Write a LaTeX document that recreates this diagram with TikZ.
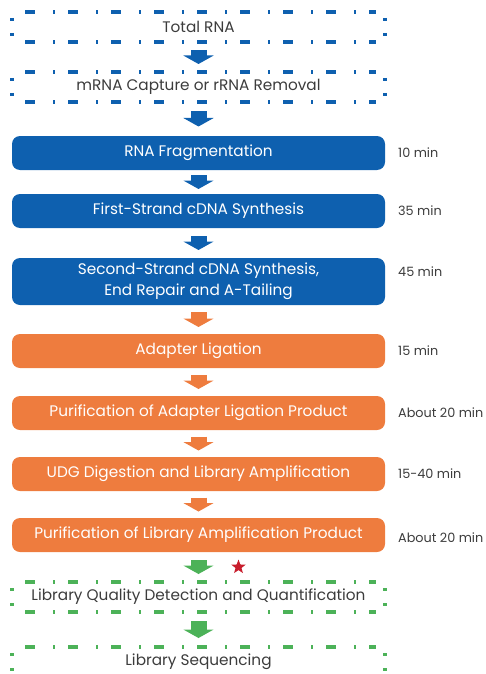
\documentclass[tikz,border=0pt]{standalone}
\usepackage{fontspec}
\setmainfont{Poppins}
\usetikzlibrary{arrows.meta,positioning,calc,shapes.geometric}
\definecolor{flowblue}{RGB}{14,96,175}
\definecolor{floworange}{RGB}{238,124,62}
\definecolor{flowgreen}{RGB}{76,178,88}
\definecolor{starred}{RGB}{200,30,45}
\definecolor{txtgray}{RGB}{60,60,60}
% dashed frame around a step: dash-dot top and bottom, two dots per side
\providecommand{\dashframe}[2]{%
  \draw[hedge=#2] ([xshift=13pt]#1.north west) -- ([xshift=-9pt]#1.north east);
  \draw[hedge=#2] ([xshift=13pt]#1.south west) -- ([xshift=-9pt]#1.south east);
  \draw[vedge=#2] (#1.north west) -- (#1.south west);
  \draw[vedge=#2] (#1.north east) -- (#1.south east);}
\tikzset{
  sbox/.style   ={minimum width=373pt, minimum height=34pt, inner sep=0pt,
                  outer sep=0pt, align=center, font=\fontsize{15.3}{21}\selectfont},
  sfill/.style  ={sbox, rounded corners=8pt, fill=#1, text=white},
  sdash/.style  ={sbox, minimum height=30pt, text=txtgray},
  hedge/.style  ={draw=#1, line width=3.6pt, dash pattern=on 10pt off 18pt on 2.2pt off 12.8pt},
  vedge/.style  ={draw=#1, line width=3.6pt, dash pattern=on 0pt off 6pt on 3pt off 12pt on 3pt off 20pt},
  stime/.style  ={anchor=west, inner sep=0pt, text=txtgray,
                  font=\fontsize{12.8}{14}\selectfont},
  flow/.style   ={line width=16pt, -{Triangle[width=30pt,length=8.5pt]},
                  shorten <=#1, shorten >=#1},
}
\begin{document}
\begin{tikzpicture}[x=1pt, y=1pt]
  \useasboundingbox (0,0) rectangle (485,-674);

  % ---- input ----
  \node[sdash] (total) at (198.5,-27) {Total RNA};
  \node[sdash, below=30pt of total] (capture) {mRNA Capture or rRNA Removal};

  % ---- blue steps ----
  \node[sfill=flowblue, below=34pt of capture] (frag) {RNA Fragmentation};
  \node[sfill=flowblue, below=24pt of frag] (first) {First-Strand cDNA Synthesis};
  \node[sfill=flowblue, minimum height=47pt, below=30pt of first] (second)
    {Second-Strand cDNA Synthesis,\\End Repair and A-Tailing};

  % ---- orange steps ----
  \node[sfill=floworange, below=29pt of second] (ligate) {Adapter Ligation};
  \node[sfill=floworange, below=28pt of ligate] (purlig) {Purification of Adapter Ligation Product};
  \node[sfill=floworange, below=27pt of purlig] (udg) {UDG Digestion and Library Amplification};
  \node[sfill=floworange, below=27pt of udg] (puramp) {Purification of Library Amplification Product};

  % ---- output ----
  \node[sdash, below=30pt of puramp] (qc) {Library Quality Detection and Quantification};
  \node[sdash, below=35pt of qc] (seq) {Library Sequencing};

  \dashframe{total}{flowblue}
  \dashframe{capture}{flowblue}
  \dashframe{qc}{flowgreen}
  \dashframe{seq}{flowgreen}

  % ---- times ----
  \node[stime, right=13pt of frag.east] (tfrag) {10 min};
  \node[stime, right=13pt of first.east] (tfirst) {35 min};
  \node[stime, right=13pt of second.east, yshift=10pt] (tsecond) {45 min};
  \node[stime, right=13pt of ligate.east] (tligate) {15 min};
  \node[stime, right=13pt of purlig.east] (tpurlig) {About 20 min};
  \node[stime, right=13pt of udg.east] (tudg) {15-40 min};
  \node[stime, right=13pt of puramp.east, yshift=-3pt] (tpuramp) {About 20 min};

  % ---- arrows ----
  \draw[flow=8pt, flowblue]   (total)   -- (capture);
  \draw[flow=9.5pt, flowblue] (capture) -- (frag);
  \draw[flow=5pt, flowblue]   (frag)    -- (first);
  \draw[flow=8pt, flowblue]   (first)   -- (second);
  \draw[flow=7pt, floworange] (second)  -- (ligate);
  \draw[flow=7pt, floworange] (ligate)  -- (purlig);
  \draw[flow=6.5pt, floworange] (purlig) -- (udg);
  \draw[flow=6.5pt, floworange] (udg)   -- (puramp);
  \draw[flow=8pt, flowgreen]  (puramp)  -- (qc);
  \draw[flow=9pt, flowgreen]  (qc)      -- (seq);

  \node[star, star points=5, star point ratio=2.4, fill=starred, inner sep=0pt,
        minimum size=15pt] (mark) at ($(puramp.south)!0.5!(qc.north)+(40pt,0)$) {};

\end{tikzpicture}
\end{document}
